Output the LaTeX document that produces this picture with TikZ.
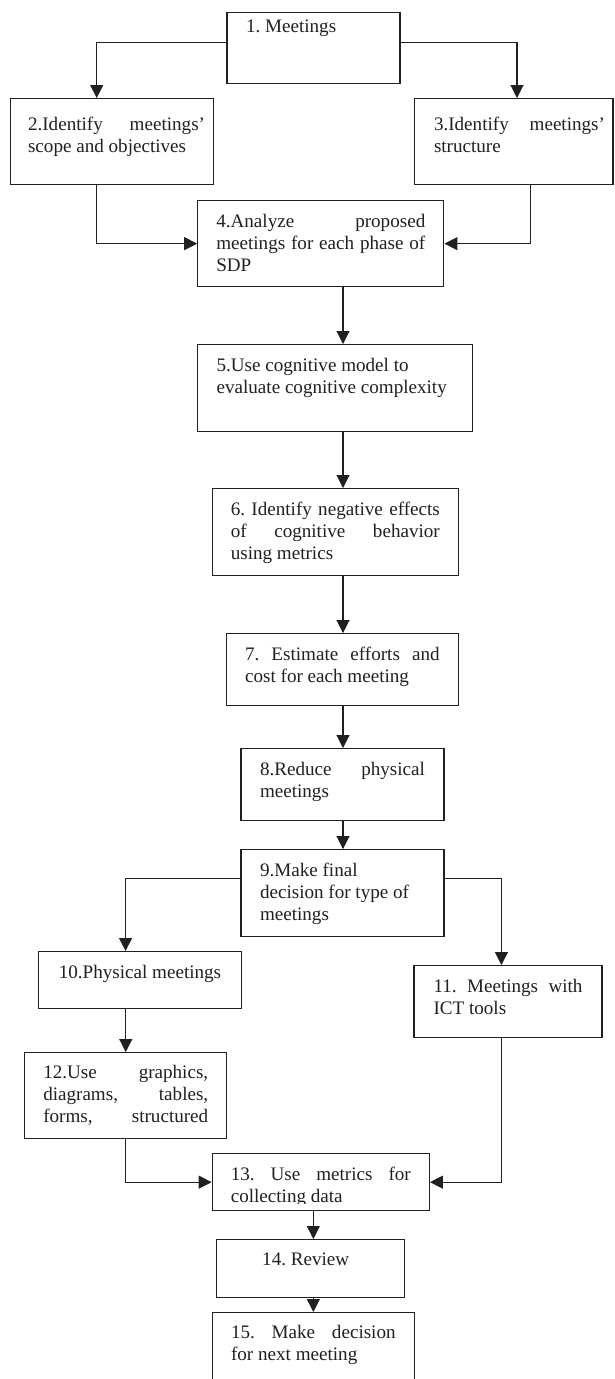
\documentclass[tikz,border=0pt]{standalone}
\usepackage{fontspec}
\setmainfont{Liberation Serif}
\usetikzlibrary{arrows.meta,calc}
\definecolor{ink}{RGB}{35,31,32}
\newcommand{\fillline}[1]{\makebox[\linewidth][s]{#1}}

\begin{document}
\begin{tikzpicture}[
    x=1pt, y=-1pt,          % one unit is one pixel, y runs downwards
    font=\fontsize{19.1}{22}\selectfont\frenchspacing,
    stepbox/.style={
        draw=ink,
        text=ink,
        line width=1.3pt,
        inner sep=0pt,      % the box is exactly text width / height + depth
        anchor=north,       % boxes hang from their top edge
        align=justify
    },
    link/.style={
        draw=ink,
        line width=1.1pt,
        -{Triangle[width=13pt,length=13pt]}
    }
]
\clip (0,0) rectangle (614,1379);

\node[stepbox, minimum width=173pt, text width=135pt, text height=20pt, text depth=51pt]
    (b1) at (313.5,12) {1. Meetings};
\node[stepbox, minimum width=203pt, text width=168pt, text height=32pt, text depth=54pt]
    (b2) at (112.05,98) {\makebox[177pt][s]{2.Identify meetings'}\\ scope and objectives};
\node[stepbox, minimum width=198.6pt, text width=159.4pt, text height=32pt, text depth=54pt]
    (b3) at (513.7,98) {\makebox[171pt][s]{3.Identify meetings'}\\ structure};
\node[stepbox, minimum width=246pt, text width=209pt, text height=27pt, text depth=59pt]
    (b4) at (320.8,200) {\fillline{4.Analyze proposed}\\ \fillline{meetings for each phase of}\\ SDP};
\node[stepbox, minimum width=275pt, text width=237.4pt, text height=27pt, text depth=60pt]
    (b5) at (335.3,344) {5.Use cognitive model to\\ evaluate cognitive complexity};
\node[stepbox, minimum width=246pt, text width=209pt, text height=27pt, text depth=60pt]
    (b6) at (335.3,488) {\fillline{6. Identify negative effects}\\ \fillline{of cognitive behavior}\\ using metrics};
\node[stepbox, minimum width=232pt, text width=194.5pt, text height=27pt, text depth=45pt]
    (b7) at (342.35,633) {\fillline{7. Estimate efforts and}\\ cost for each meeting};
\node[stepbox, minimum width=203pt, text width=165pt, text height=27pt, text depth=45pt]
    (b8) at (342.5,748) {\fillline{8.Reduce physical}\\ meetings};
\node[stepbox, minimum width=203pt, text width=165pt, text height=27pt, text depth=60pt]
    (b9) at (342.5,849) {9.Make final\\ decision for type of\\ meetings};
\node[stepbox, minimum width=202.5pt, text width=162.5pt, text height=27pt, text depth=30pt]
    (b10) at (140.05,951) {\mbox{10.Physical meetings}};
\node[stepbox, minimum width=188pt, text width=149pt, text height=27pt, text depth=45pt]
    (b11) at (508,965) {\fillline{11. Meetings with}\\ ICT tools};
\node[stepbox, minimum width=202pt, text width=165pt, text height=26pt, text depth=60pt]
    (b12) at (125.75,1052) {\fillline{12.Use graphics,}\\ \fillline{diagrams, tables,}\\ \fillline{forms, structured}};
\node[stepbox, minimum width=217pt, text width=180pt, text height=27pt, text depth=30pt]
    (b13) at (320.8,1153) {};
% the second line of step 13 is cut off by its box
\begin{scope}
    \clip ([xshift=1pt]b13.north west) rectangle ([yshift=8pt]b13.south east);
    \node[stepbox, draw=none, minimum width=217pt, text width=180pt, text height=27pt, text depth=30pt]
        (t13) at (b13.north) {\fillline{13. Use metrics for}\\ collecting data};
\end{scope}
\node[stepbox, minimum width=188pt, text width=96pt, text height=26pt, text depth=32pt]
    (b14) at (310.2,1239) {14. Review};
\node[stepbox, minimum width=202pt, text width=164.6pt, text height=26pt, text depth=74pt]
    (b15) at (313.35,1312) {\fillline{15. Make decision}\\ for next meeting};

\coordinate (axis) at (343,0);

\draw[link] ([yshift=5.5pt]b1.west) -| ([xshift=-15.35pt]b2.north);
\draw[link] ([yshift=5.5pt]b1.east) -| ([xshift=3.3pt]b3.north);
\draw[link] ([xshift=-15.35pt]b2.south) |- (b4.west);
\draw[link] ([xshift=17pt]b3.south) |- (b4.east);
\draw[link] (b4.south -| axis) -- (b5.north -| axis);
\draw[link] (b5.south -| axis) -- (b6.north -| axis);
\draw[link] (b6.south -| axis) -- (b7.north -| axis);
\draw[link] (b7.south -| axis) -- (b8.north -| axis);
\draw[link] (b8.south -| axis) -- (b9.north -| axis);
\draw[link] ([yshift=14.5pt]b9.west) -| ([xshift=-14.5pt]b10.north);
\draw[link] ([yshift=14.5pt]b9.east) -| ([xshift=-6.6pt]b11.north);
\draw[link] (b10.south -| b12.north) -- (b12.north);
\draw[link] (b12.south) |- (b13.west);
\draw[link] ([xshift=-6.6pt]b11.south) |- (b13.east);
\draw[link] (b13.south -| b15.north) -- (b14.north -| b15.north);
\draw[link] (b14.south -| b15.north) -- (b15.north);
\end{tikzpicture}
\end{document}
